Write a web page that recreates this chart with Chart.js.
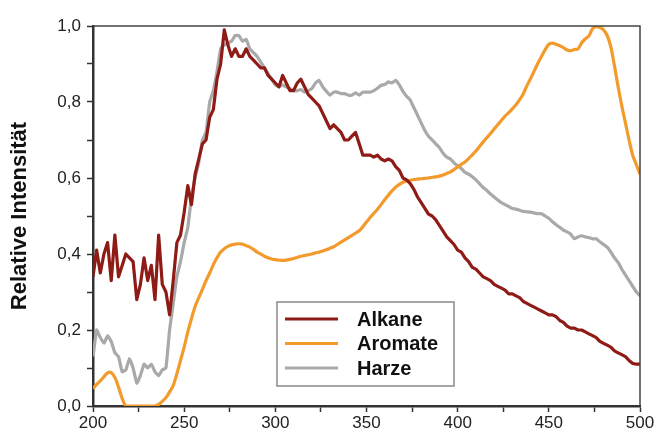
<!DOCTYPE html>
<html>
<head>
<meta charset="utf-8">
<script src="https://cdn.jsdelivr.net/npm/chart.js@4.4.1/dist/chart.umd.min.js"></script>
<style>
  html, body { margin: 0; padding: 0; background: #fff; }
  #wrap { width: 657px; height: 433px; }
</style>
</head>
<body>
<div id="wrap"><canvas id="spectra" width="657" height="433"></canvas></div>
<script>
// wavelength in nm, 2 nm steps
const wavelength = [
  200,202,204,206,208,210,212,214,216,218,220,222,224,226,228,230,232,234,236,238,
  240,242,244,246,248,250,252,254,256,258,260,262,264,266,268,270,272,274,276,278,
  280,282,284,286,288,290,292,294,296,298,300,302,304,306,308,310,312,314,316,318,
  320,322,324,326,328,330,332,334,336,338,340,342,344,346,348,350,352,354,356,358,
  360,362,364,366,368,370,372,374,376,378,380,382,384,386,388,390,392,394,396,398,
  400,402,404,406,408,410,412,414,416,418,420,422,424,426,428,430,432,434,436,438,
  440,442,444,446,448,450,452,454,456,458,460,462,464,466,468,470,472,474,476,478,
  480,482,484,486,488,490,492,494,496,498,500
];

const alkane = [
  0.34,0.41,0.35,0.40,0.43,0.33,0.45,0.34,0.37,0.40,0.39,0.38,0.28,0.32,0.39,0.33,0.37,0.28,0.45,0.32,
  0.30,0.24,0.33,0.43,0.45,0.51,0.58,0.53,0.61,0.65,0.69,0.70,0.76,0.78,0.86,0.90,0.99,0.95,0.92,0.94,
  0.92,0.92,0.94,0.92,0.91,0.90,0.89,0.89,0.87,0.86,0.85,0.84,0.87,0.85,0.83,0.83,0.85,0.86,0.84,0.82,
  0.81,0.80,0.79,0.77,0.75,0.73,0.74,0.73,0.72,0.70,0.70,0.71,0.72,0.69,0.66,0.66,0.66,0.655,0.66,0.65,
  0.645,0.65,0.645,0.63,0.62,0.60,0.595,0.585,0.57,0.55,0.535,0.52,0.505,0.50,0.49,0.475,0.46,0.445,0.435,0.425,
  0.41,0.405,0.39,0.38,0.365,0.36,0.35,0.34,0.335,0.33,0.32,0.315,0.31,0.305,0.295,0.295,0.29,0.285,0.275,0.27,
  0.265,0.26,0.255,0.25,0.245,0.24,0.24,0.235,0.225,0.22,0.21,0.205,0.205,0.20,0.20,0.195,0.19,0.185,0.18,0.17,
  0.165,0.16,0.155,0.145,0.14,0.135,0.13,0.12,0.112,0.11,0.11
];

const aromate = [
  0.046,0.057,0.066,0.077,0.087,0.088,0.075,0.05,0.02,0.0,0.0,0.0,0.0,0.0,0.0,0.0,0.0,0.0,0.004,0.012,
  0.022,0.037,0.054,0.085,0.12,0.155,0.195,0.23,0.262,0.285,0.307,0.33,0.35,0.372,0.39,0.405,0.414,0.42,0.424,0.426,
  0.427,0.426,0.422,0.418,0.412,0.405,0.40,0.394,0.39,0.387,0.385,0.384,0.383,0.384,0.386,0.388,0.391,0.394,0.396,0.398,
  0.40,0.403,0.405,0.408,0.411,0.415,0.419,0.425,0.431,0.437,0.443,0.449,0.455,0.461,0.472,0.484,0.496,0.507,0.518,0.53,
  0.543,0.555,0.566,0.576,0.583,0.589,0.592,0.594,0.596,0.597,0.598,0.599,0.60,0.602,0.603,0.605,0.608,0.612,0.616,0.622,
  0.629,0.636,0.642,0.651,0.661,0.671,0.683,0.695,0.706,0.717,0.729,0.74,0.752,0.763,0.772,0.782,0.793,0.806,0.822,0.843,
  0.862,0.882,0.902,0.92,0.938,0.952,0.955,0.952,0.948,0.943,0.937,0.935,0.938,0.94,0.956,0.966,0.974,0.993,0.998,0.996,
  0.99,0.975,0.945,0.895,0.84,0.79,0.745,0.70,0.66,0.635,0.61
];

const harze = [
  0.13,0.20,0.18,0.165,0.185,0.17,0.14,0.13,0.09,0.095,0.125,0.10,0.06,0.08,0.11,0.10,0.11,0.09,0.08,0.095,
  0.10,0.20,0.27,0.34,0.38,0.43,0.47,0.55,0.60,0.64,0.70,0.72,0.80,0.83,0.88,0.94,0.95,0.955,0.96,0.975,
  0.975,0.96,0.965,0.94,0.93,0.92,0.905,0.89,0.875,0.86,0.845,0.84,0.845,0.84,0.835,0.83,0.83,0.833,0.826,0.83,
  0.835,0.85,0.857,0.84,0.828,0.818,0.826,0.826,0.822,0.822,0.818,0.818,0.824,0.818,0.826,0.826,0.826,0.83,0.836,0.844,
  0.846,0.853,0.85,0.857,0.845,0.828,0.815,0.805,0.785,0.765,0.745,0.725,0.71,0.70,0.69,0.68,0.665,0.655,0.65,0.64,
  0.632,0.625,0.615,0.61,0.603,0.595,0.585,0.575,0.567,0.558,0.55,0.542,0.535,0.53,0.525,0.52,0.518,0.515,0.512,0.511,
  0.51,0.508,0.506,0.506,0.50,0.494,0.485,0.477,0.47,0.463,0.458,0.452,0.44,0.445,0.448,0.445,0.443,0.44,0.44,0.432,
  0.425,0.418,0.405,0.39,0.378,0.36,0.345,0.33,0.315,0.30,0.29
];

const seriesNames = ["Alkane", "Aromate", "Harze"];
const seriesColors = ["#8e1b16", "#f39a2c", "#a9a9a9"];

function pairs(values) {
  return wavelength.map((w, i) => ({ x: w, y: values[i] }));
}

// frame on top and right like the original plot box
const frame = {
  id: "frame",
  afterDatasetsDraw(chart) {
    const a = chart.chartArea, ctx = chart.ctx;
    ctx.save();
    ctx.strokeStyle = "#444";
    ctx.lineWidth = 1.5;
    ctx.beginPath();
    ctx.moveTo(a.left, a.top);
    ctx.lineTo(a.right, a.top);
    ctx.lineTo(a.right, a.bottom);
    ctx.stroke();
    ctx.restore();
  }
};

// boxed legend inside the plot
const boxLegend = {
  id: "boxLegend",
  afterDraw(chart) {
    const ctx = chart.ctx;
    const bx = 277, by = 302, bw = 177, bh = 84;
    ctx.save();
    ctx.fillStyle = "#fff";
    ctx.fillRect(bx, by, bw, bh);
    ctx.strokeStyle = "#8a8a8a";
    ctx.lineWidth = 1.5;
    ctx.strokeRect(bx, by, bw, bh);
    ctx.font = "bold 20px 'Liberation Sans', Arial, sans-serif";
    ctx.textBaseline = "middle";
    ctx.fillStyle = "#111";
    chart.data.datasets.forEach((ds, i) => {
      const y = 319 + i * 24.5;
      ctx.strokeStyle = ds.borderColor;
      ctx.lineWidth = 3;
      ctx.beginPath();
      ctx.moveTo(285, y);
      ctx.lineTo(338, y);
      ctx.stroke();
      ctx.fillText(ds.label, 357, y + 1);
    });
    ctx.restore();
  }
};

new Chart(document.getElementById("spectra"), {
  type: "line",
  data: {
    datasets: [
      { label: seriesNames[0], data: pairs(alkane), borderColor: seriesColors[0], tension: 0 },
      { label: seriesNames[1], data: pairs(aromate), borderColor: seriesColors[1], tension: 0.3 },
      { label: seriesNames[2], data: pairs(harze), borderColor: seriesColors[2], tension: 0.1 }
    ]
  },
  options: {
    responsive: false,
    animation: false,
    layout: { padding: { top: 26, right: 17, left: 0, bottom: 0 } },
    elements: {
      point: { radius: 0 },
      line: { borderWidth: 3.2, borderJoinStyle: "round" }
    },
    plugins: {
      legend: { display: false },
      tooltip: { enabled: false }
    },
    scales: {
      x: {
        type: "linear",
        min: 200,
        max: 500,
        afterFit: function(scale) { scale.height = 27; },
        ticks: {
          stepSize: 25,
          padding: 1,
          color: "#222",
          font: { family: "'Liberation Sans', Arial, sans-serif", size: 17 },
          maxRotation: 0,
          callback: function(v) { return v % 50 === 0 ? v : ""; }
        },
        grid: { drawOnChartArea: false, tickLength: 6, tickColor: "#333", tickWidth: 1.5 },
        border: { color: "#333", width: 2.5 }
      },
      y: {
        min: 0,
        max: 1,
        afterFit: function(scale) { scale.width = 93; },
        ticks: {
          stepSize: 0.1,
          padding: 6,
          color: "#222",
          font: { family: "'Liberation Sans', Arial, sans-serif", size: 17 },
          callback: function(v) {
            const k = Math.round(v * 10);
            return k % 2 === 0 ? (k / 10).toFixed(1).replace(".", ",") : "";
          }
        },
        grid: { drawOnChartArea: false, tickLength: 6, tickColor: "#333", tickWidth: 1.5 },
        border: { color: "#333", width: 2.5 },
        title: {
          display: true,
          text: "Relative Intensität",
          color: "#111",
          font: { family: "'Liberation Sans', Arial, sans-serif", size: 22, weight: "bold" },
          padding: { top: 7, bottom: 0 }
        }
      }
    }
  },
  plugins: [frame, boxLegend]
});
</script>
</body>
</html>
